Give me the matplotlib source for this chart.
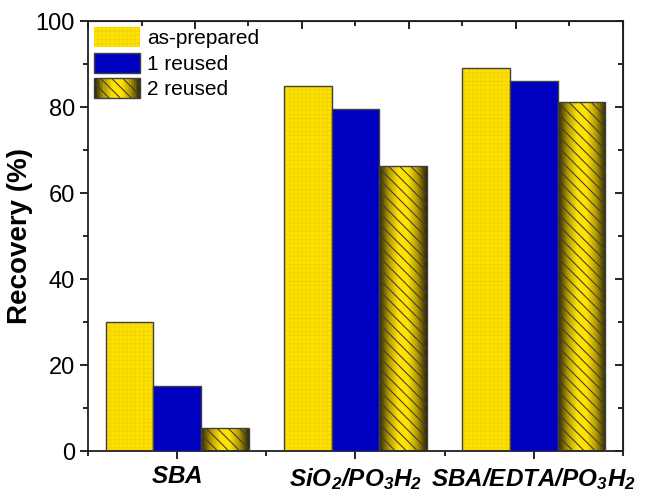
import numpy as np
import matplotlib
matplotlib.use('Agg')
import matplotlib.pyplot as plt
from matplotlib.colors import LinearSegmentedColormap
from matplotlib.patches import Rectangle
from matplotlib.legend_handler import HandlerPatch

plt.rcParams['font.family'] = ['Liberation Sans', 'DejaVu Sans']
plt.rcParams['mathtext.fontset'] = 'custom'
plt.rcParams['mathtext.rm'] = 'Liberation Sans'
plt.rcParams['mathtext.it'] = 'Liberation Sans:italic'
plt.rcParams['mathtext.bf'] = 'Liberation Sans:bold'
plt.rcParams['mathtext.bfit'] = 'Liberation Sans:bold:italic'
plt.rcParams['hatch.linewidth'] = 0.8

categories = [r'$\mathbfit{SBA}$', r'$\mathbfit{SiO_2/PO_3H_2}$',
              r'$\mathbfit{SBA/EDTA/PO_3H_2}$']
series = ['as-prepared', '1 reused', '2 reused']
as_prepared = [30.0, 85.0, 89.2]
reused_1 = [15.1, 79.5, 86.1]
reused_2 = [5.3, 66.2, 81.1]

YELLOW = '#FFE200'
BLUE = '#0000C0'
EDGE = '#404040'
shade = LinearSegmentedColormap.from_list(
    'shade', ['#2e2600', '#b39a00', YELLOW, YELLOW, '#b39a00', '#2e2600'])
grad = np.linspace(0, 1, 64).reshape(1, -1)


class GradHandler(HandlerPatch):
    """Legend key with the shaded, hatched look of the bars."""
    def create_artists(self, legend, orig, xd, yd, w, h, fs, trans):
        arts = []
        n = 30
        for i in range(n):
            arts.append(Rectangle((-xd + w * i / n, -yd), w / n + 0.3, h,
                                  facecolor=shade(i / (n - 1)), lw=0,
                                  transform=trans))
        arts.append(Rectangle((-xd, -yd), w, h, facecolor='none',
                              edgecolor=EDGE, hatch='\\\\\\', lw=1,
                              transform=trans))
        return arts


fig = plt.figure(figsize=(6.57, 4.92), dpi=100)
ax = fig.add_axes([0.134, 0.083, 0.814, 0.874])

x = np.arange(1, len(categories) + 1)
width = 0.267

b1 = ax.bar(x - width, as_prepared, width, color=YELLOW, edgecolor='#f2d400',
            hatch='++++', lw=0, zorder=2)
ax.bar(x - width, as_prepared, width, facecolor='none', edgecolor=EDGE,
       lw=1, zorder=3)
b2 = ax.bar(x, reused_1, width, color=BLUE, edgecolor=EDGE, lw=1, zorder=3)
b3 = ax.bar(x + width, reused_2, width, facecolor='none', edgecolor=EDGE,
            hatch='\\\\\\', lw=1, zorder=3)
for r in b3:
    x0 = r.get_x()
    ax.imshow(grad, cmap=shade, aspect='auto', zorder=2,
              extent=[x0, x0 + r.get_width(), 0, r.get_height()])

ax.set_xlim(0.5, 3.5)
ax.set_ylim(0, 100)
ax.set_xticks(x)
ax.set_xticklabels(categories, fontsize=17.5)
ax.set_xticks([0.5, 1.5, 2.5, 3.5], minor=True)
ax.set_yticks(np.arange(0, 101, 20))
ax.set_yticks(np.arange(0, 101, 10), minor=True)
ax.tick_params(axis='y', labelsize=17, direction='out', length=6, width=1.2)
ax.tick_params(axis='y', which='minor', direction='out', length=3.5, width=1.2)
ax.tick_params(axis='x', direction='out', length=6, width=1.2, pad=5)
ax.tick_params(axis='x', which='minor', direction='out', length=3.5, width=1.2)
ax.set_ylabel('Recovery (%)', fontsize=20, fontweight='bold', labelpad=2)
for s in ax.spines.values():
    s.set_linewidth(1.3)
    s.set_color('#202020')

# mirrored ticks on top and right, pointing inward
top = ax.secondary_xaxis('top')
top.set_xticks(np.arange(0.5, 3.6, 0.6))
top.set_xticks(np.arange(0.8, 3.4, 0.6), minor=True)
top.tick_params(direction='in', length=6, width=1.2, labeltop=False)
top.tick_params(which='minor', direction='in', length=3.5, width=1.2)
right = ax.secondary_yaxis('right')
right.set_yticks(np.arange(0, 101, 20))
right.set_yticks(np.arange(0, 101, 10), minor=True)
right.tick_params(direction='in', length=6, width=1.2, labelright=False)
right.tick_params(which='minor', direction='in', length=3.5, width=1.2)

key3 = Rectangle((0, 0), 1, 1)
ax.legend([b1[0], b2[0], key3], series, loc='upper left', frameon=False,
          fontsize=15, handlelength=2.2, handleheight=1.1, labelspacing=0.2,
          handletextpad=0.35, borderpad=0, borderaxespad=0.3,
          handler_map={key3: GradHandler()})

fig.savefig('out.png', dpi=100)
